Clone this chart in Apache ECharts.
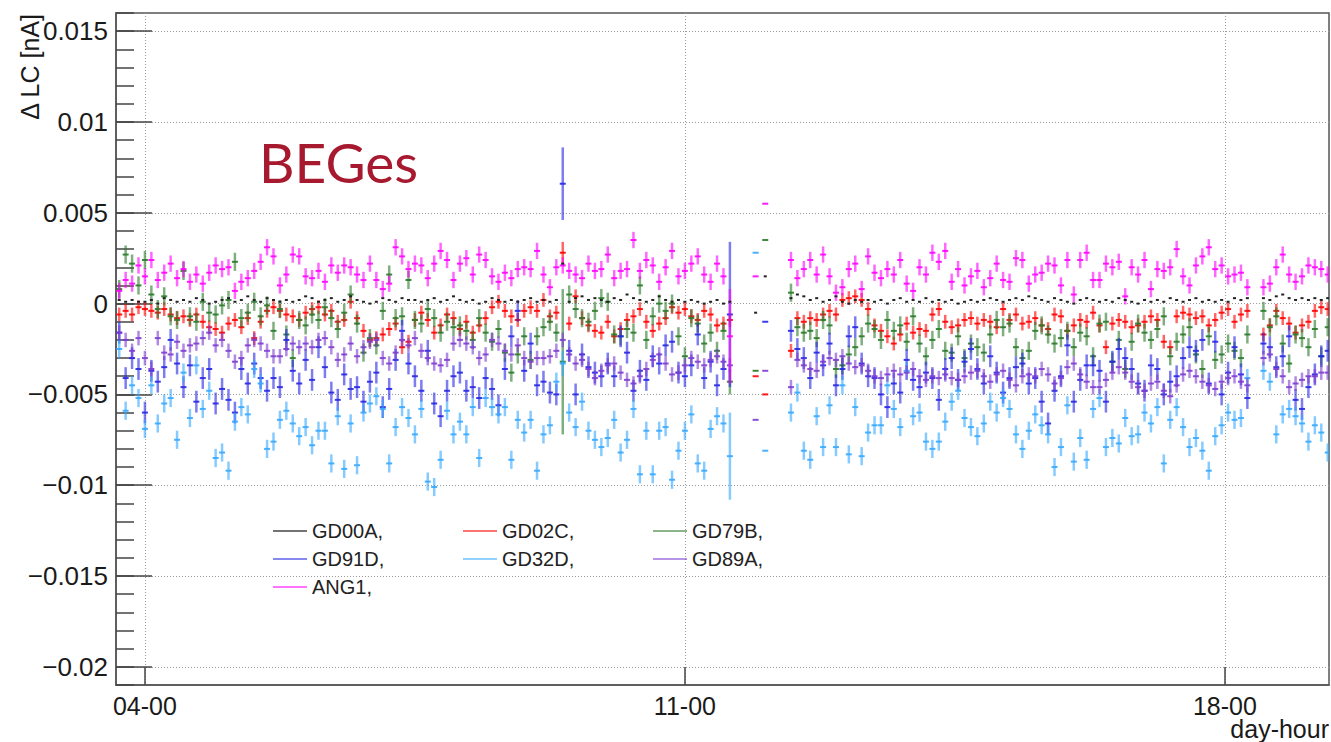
<!DOCTYPE html>
<html>
<head>
<meta charset="utf-8">
<script src="https://cdn.jsdelivr.net/npm/echarts@6/dist/echarts.min.js"></script>
<style>
html,body{margin:0;padding:0;background:#fff;}
#chart{width:1331px;height:742px;}
</style>
</head>
<body>
<div id="chart"></div>
<script>
// ---------------- DATA ----------------
// time in hours relative to 04-00
const hours = [-8,-6,-4,-2,
0,2,4,6,8,10,12,14,16,18,20,22,
24,26,28,30,32,34,36,38,40,42,44,46,
48,50,52,54,56,58,60,62,64,66,68,70,
72,74,76,78,80,82,84,86,88,90,92,94,
96,98,100,102,104,106,108,110,112,114,116,118,
120,122,124,126,128,130,132,134,136,138,140,142,
144,146,148,150,152,154,156,158,160,162,164,166,
168,170,172,174,176,178,180,182,
190,193,
201,203,205,207,209,211,213,215,217,219,221,223,
225,227,229,231,233,235,237,239,241,243,245,247,
249,251,253,255,257,259,261,263,265,267,269,271,
273,275,277,279,281,283,285,287,289,291,293,295,
297,299,301,303,305,307,309,311,313,315,317,319,
321,323,325,327,329,331,333,335,337,339,341,343,
348,350,352,354,356,358,360,362,364,366,368];

const GD00A = [0.0002,0.0001,0.0002,0.0001,
0.0001,0.0002,0.0000,0.0003,0.0002,0.0001,0.0002,0.0001,0.0003,0.0002,0.0000,0.0001,
0.0002,0.0003,0.0001,0.0002,0.0004,0.0002,0.0001,0.0003,0.0002,0.0001,0.0002,0.0001,
0.0002,0.0004,0.0003,0.0001,0.0002,0.0003,0.0001,0.0002,0.0004,0.0002,0.0001,0.0000,
0.0001,0.0003,0.0002,0.0001,0.0003,0.0002,0.0002,0.0001,0.0002,0.0003,0.0001,0.0002,
0.0004,0.0002,0.0001,0.0002,0.0000,0.0001,0.0003,0.0002,0.0001,0.0002,0.0001,0.0002,
0.0003,0.0001,0.0002,0.0001,0.0002,0.0022,0.0001,0.0003,0.0004,0.0002,0.0003,0.0002,
0.0001,0.0003,0.0002,0.0005,0.0003,0.0002,0.0001,0.0002,0.0004,0.0002,0.0001,0.0002,
0.0001,0.0002,0.0001,0.0000,0.0001,0.0002,0.0000,0.0001,
-0.0005,0.0015,
0.0003,0.0005,0.0004,0.0002,0.0003,0.0001,0.0002,0.0004,0.0001,0.0000,0.0002,0.0001,
0.0002,0.0001,0.0002,0.0000,0.0002,0.0003,0.0001,0.0002,0.0001,0.0003,0.0001,0.0002,
0.0001,0.0002,0.0000,0.0001,0.0002,0.0001,0.0002,0.0003,0.0002,0.0001,0.0002,0.0003,
0.0002,0.0004,0.0003,0.0002,0.0001,0.0003,0.0002,0.0001,0.0000,0.0002,0.0003,0.0002,
0.0001,0.0002,0.0001,0.0003,0.0002,0.0001,0.0000,0.0002,0.0001,0.0002,0.0001,0.0003,
0.0002,0.0001,0.0002,0.0003,0.0001,0.0002,0.0001,0.0002,0.0001,0.0003,0.0002,0.0003,
0.0003,0.0002,0.0004,0.0005,0.0003,0.0002,0.0003,0.0002,0.0003,0.0002,0.0003];

const GD02C = [-0.0006,-0.0004,-0.0006,-0.0002,
-0.0003,-0.0004,-0.0005,-0.0003,-0.0006,-0.0008,-0.0007,-0.0009,-0.0006,-0.0010,-0.0013,-0.0014,
-0.0016,-0.0011,-0.0009,-0.0013,-0.0008,-0.0019,-0.0010,-0.0004,-0.0002,-0.0004,-0.0006,-0.0007,
-0.0009,-0.0005,-0.0003,-0.0002,-0.0006,-0.0004,-0.0010,-0.0009,0.0001,-0.0008,-0.0015,-0.0020,
-0.0019,-0.0017,-0.0014,-0.0011,-0.0024,-0.0021,-0.0009,-0.0005,-0.0009,-0.0016,-0.0012,-0.0006,
-0.0008,-0.0014,-0.0010,-0.0016,-0.0012,-0.0008,-0.0002,0.0001,-0.0004,-0.0007,-0.0009,-0.0004,
-0.0002,-0.0004,0.0002,-0.0007,-0.0005,0.0028,-0.0011,0.0004,-0.0008,-0.0012,-0.0015,-0.0016,
-0.0010,-0.0018,-0.0014,-0.0009,-0.0007,-0.0003,-0.0010,-0.0015,-0.0011,-0.0008,-0.0002,-0.0005,
-0.0003,-0.0007,-0.0009,-0.0004,-0.0006,-0.0012,-0.0011,-0.0009,
-0.0040,-0.0050,
-0.0026,-0.0008,-0.0010,-0.0008,-0.0009,-0.0006,-0.0004,-0.0006,0.0002,0.0003,0.0004,0.0002,
-0.0003,-0.0012,-0.0015,-0.0018,-0.0022,-0.0017,-0.0011,-0.0016,-0.0014,-0.0015,-0.0006,-0.0003,
-0.0010,-0.0013,-0.0012,-0.0009,-0.0008,-0.0011,-0.0009,-0.0010,-0.0013,-0.0003,-0.0009,-0.0006,
-0.0011,-0.0010,-0.0008,-0.0012,-0.0014,-0.0006,-0.0007,-0.0015,-0.0012,-0.0009,-0.0010,-0.0005,
-0.0012,-0.0024,-0.0011,-0.0009,-0.0010,-0.0013,-0.0012,-0.0010,-0.0007,-0.0009,-0.0021,-0.0024,
-0.0007,-0.0005,-0.0006,-0.0008,-0.0007,-0.0012,-0.0009,-0.0005,-0.0003,-0.0010,-0.0006,-0.0004,
-0.0017,-0.0012,-0.0004,-0.0008,-0.0011,-0.0016,-0.0012,-0.0010,-0.0004,-0.0002,-0.0003];

const GD79B = [0.0008,0.0027,0.0022,0.0010,
0.0024,0.0005,-0.0003,0.0004,-0.0007,-0.0009,0.0018,-0.0007,-0.0010,0.0001,-0.0005,-0.0006,
-0.0001,0.0002,0.0023,-0.0008,-0.0005,0.0001,-0.0007,-0.0001,-0.0015,-0.0003,-0.0017,-0.0030,
-0.0009,-0.0012,-0.0006,-0.0009,-0.0002,-0.0008,-0.0014,-0.0005,0.0005,-0.0011,-0.0027,-0.0019,
-0.0023,-0.0004,0.0016,-0.0008,-0.0007,0.0013,-0.0009,-0.0011,-0.0003,-0.0008,-0.0016,-0.0010,
-0.0013,-0.0012,-0.0015,-0.0020,-0.0008,-0.0016,-0.0021,-0.0014,-0.0027,-0.0038,-0.0028,-0.0018,
-0.0031,-0.0018,-0.0013,-0.0010,-0.0016,-0.0032,0.0005,-0.0003,-0.0008,-0.0010,-0.0004,0.0003,
0.0001,-0.0017,-0.0018,-0.0014,-0.0016,0.0010,-0.0020,-0.0007,0.0000,-0.0004,0.0000,-0.0018,
-0.0029,-0.0008,-0.0011,-0.0022,-0.0016,-0.0026,-0.0015,-0.0043,
-0.0037,0.0035,
0.0006,-0.0013,-0.0016,-0.0015,-0.0019,-0.0009,-0.0012,-0.0036,-0.0034,-0.0028,-0.0024,-0.0018,
-0.0011,-0.0014,-0.0020,-0.0009,-0.0015,-0.0012,-0.0021,-0.0007,-0.0022,-0.0029,-0.0020,-0.0014,
-0.0026,-0.0027,-0.0018,-0.0030,-0.0022,-0.0024,-0.0027,-0.0017,-0.0009,-0.0013,-0.0011,-0.0024,
-0.0030,-0.0026,-0.0015,-0.0012,-0.0017,-0.0022,-0.0019,-0.0015,-0.0024,-0.0016,-0.0018,-0.0029,
-0.0011,-0.0010,-0.0032,-0.0020,-0.0036,-0.0021,-0.0011,-0.0016,-0.0020,-0.0014,-0.0007,-0.0029,
-0.0021,-0.0017,-0.0013,-0.0028,-0.0036,-0.0018,-0.0031,-0.0028,-0.0022,-0.0026,-0.0030,-0.0017,
-0.0004,-0.0013,-0.0007,-0.0022,-0.0033,-0.0017,-0.0019,-0.0024,-0.0014,-0.0029,-0.0013];

const GD91D = [-0.0016,-0.0041,-0.0030,-0.0036,
-0.0060,-0.0037,-0.0043,-0.0035,-0.0020,-0.0033,-0.0046,-0.0034,-0.0054,-0.0041,-0.0036,-0.0055,
-0.0047,-0.0053,-0.0060,-0.0036,-0.0044,-0.0033,-0.0041,-0.0048,-0.0041,-0.0046,-0.0020,-0.0037,
-0.0044,-0.0031,-0.0042,-0.0024,-0.0035,-0.0049,-0.0053,-0.0039,-0.0047,-0.0046,-0.0054,-0.0043,
-0.0038,-0.0057,-0.0047,-0.0031,-0.0015,-0.0033,-0.0040,-0.0048,-0.0026,-0.0055,-0.0062,-0.0048,
-0.0040,-0.0038,-0.0048,-0.0046,-0.0052,-0.0041,-0.0047,-0.0056,-0.0036,-0.0018,-0.0004,-0.0037,
-0.0022,-0.0045,-0.0043,-0.0049,-0.0050,0.0066,-0.0026,-0.0050,-0.0028,-0.0035,-0.0038,-0.0040,
-0.0033,-0.0040,-0.0018,-0.0027,-0.0048,-0.0037,-0.0042,-0.0029,-0.0033,-0.0023,-0.0021,-0.0038,
-0.0040,-0.0034,-0.0017,-0.0041,-0.0032,-0.0045,-0.0036,-0.0006,
null,-0.0010,
-0.0015,-0.0025,-0.0030,-0.0041,-0.0027,-0.0034,-0.0022,-0.0045,-0.0036,-0.0018,-0.0013,-0.0033,
-0.0040,-0.0041,-0.0050,-0.0057,-0.0044,-0.0049,-0.0031,-0.0042,-0.0046,-0.0038,-0.0041,-0.0053,
-0.0036,-0.0030,-0.0042,-0.0032,-0.0025,-0.0036,-0.0044,-0.0029,-0.0038,-0.0049,-0.0041,-0.0035,
-0.0033,-0.0044,-0.0041,-0.0054,-0.0066,-0.0048,-0.0040,-0.0023,-0.0054,-0.0042,-0.0034,-0.0034,
-0.0037,-0.0054,-0.0032,-0.0025,-0.0030,-0.0036,-0.0044,-0.0048,-0.0034,-0.0036,-0.0050,-0.0043,
-0.0040,-0.0030,-0.0024,-0.0026,-0.0020,-0.0044,-0.0021,-0.0050,-0.0038,-0.0024,-0.0039,-0.0052,
-0.0022,-0.0024,-0.0035,-0.0029,-0.0018,-0.0053,-0.0058,-0.0046,-0.0039,-0.0029,-0.0026];

const GD32D = [-0.0025,-0.0059,-0.0045,-0.0052,
-0.0069,-0.0045,-0.0066,-0.0055,-0.0052,-0.0075,-0.0038,-0.0063,-0.0034,-0.0058,-0.0048,-0.0085,
-0.0082,-0.0092,-0.0065,-0.0057,-0.0061,-0.0036,-0.0044,-0.0080,-0.0076,-0.0064,-0.0059,-0.0066,
-0.0073,-0.0068,-0.0078,-0.0070,-0.0070,-0.0088,-0.0062,-0.0091,-0.0066,-0.0089,-0.0060,-0.0055,
-0.0051,-0.0058,-0.0088,-0.0068,-0.0057,-0.0063,-0.0072,-0.0058,-0.0098,-0.0101,-0.0086,-0.0059,
-0.0072,-0.0065,-0.0072,-0.0057,-0.0085,-0.0052,-0.0057,-0.0061,-0.0057,-0.0086,-0.0064,-0.0071,
-0.0064,-0.0092,-0.0072,-0.0067,-0.0043,-0.0033,-0.0060,-0.0068,-0.0054,-0.0070,-0.0075,-0.0079,
-0.0074,-0.0064,-0.0082,-0.0075,-0.0058,-0.0094,-0.0070,-0.0094,-0.0070,-0.0068,-0.0097,-0.0081,
-0.0070,-0.0061,-0.0088,-0.0092,-0.0069,-0.0062,-0.0066,-0.0084,
0.0028,-0.0081,
-0.0060,-0.0049,-0.0081,-0.0086,-0.0062,-0.0079,-0.0056,-0.0079,-0.0045,-0.0083,-0.0057,-0.0084,
-0.0071,-0.0067,-0.0067,-0.0045,-0.0058,-0.0068,-0.0037,-0.0062,-0.0060,-0.0076,-0.0080,-0.0076,
-0.0065,-0.0054,-0.0048,-0.0063,-0.0068,-0.0073,-0.0066,-0.0054,-0.0060,-0.0052,-0.0058,-0.0072,
-0.0080,-0.0070,-0.0061,-0.0067,-0.0072,-0.0090,-0.0079,-0.0056,-0.0087,-0.0074,-0.0086,-0.0058,
-0.0052,-0.0079,-0.0074,-0.0077,-0.0063,-0.0073,-0.0072,-0.0060,-0.0066,-0.0057,-0.0088,-0.0064,
-0.0057,-0.0068,-0.0079,-0.0074,-0.0081,-0.0092,-0.0073,-0.0067,-0.0060,-0.0064,-0.0063,-0.0041,
-0.0037,-0.0043,-0.0072,-0.0061,-0.0058,-0.0062,-0.0066,-0.0076,-0.0067,-0.0071,-0.0082];

const GD89A = [-0.0016,-0.0020,-0.0026,-0.0019,
-0.0030,-0.0036,-0.0019,-0.0027,-0.0028,-0.0021,-0.0026,-0.0023,-0.0022,-0.0019,-0.0016,-0.0023,
-0.0020,-0.0026,-0.0032,-0.0030,-0.0023,-0.0020,-0.0022,-0.0026,-0.0029,-0.0029,-0.0025,-0.0022,
-0.0024,-0.0022,-0.0024,-0.0020,-0.0019,-0.0024,-0.0031,-0.0028,-0.0022,-0.0029,-0.0024,-0.0021,
-0.0020,-0.0030,-0.0033,-0.0027,-0.0020,-0.0023,-0.0019,-0.0026,-0.0030,-0.0033,-0.0034,-0.0031,
-0.0022,-0.0020,-0.0022,-0.0024,-0.0030,-0.0028,-0.0020,-0.0022,-0.0026,-0.0028,-0.0023,-0.0030,
-0.0032,-0.0030,-0.0030,-0.0029,-0.0026,-0.0020,-0.0028,-0.0033,-0.0031,-0.0036,-0.0041,-0.0037,
-0.0034,-0.0033,-0.0038,-0.0042,-0.0044,-0.0040,-0.0036,-0.0031,-0.0028,-0.0033,-0.0039,-0.0038,
-0.0034,-0.0030,-0.0032,-0.0034,-0.0031,-0.0029,-0.0032,-0.0034,
-0.0064,-0.0037,
-0.0046,-0.0031,-0.0034,-0.0036,-0.0037,-0.0032,-0.0030,-0.0031,-0.0029,-0.0033,-0.0035,-0.0034,
-0.0037,-0.0040,-0.0041,-0.0039,-0.0037,-0.0039,-0.0038,-0.0036,-0.0040,-0.0042,-0.0040,-0.0041,
-0.0039,-0.0041,-0.0042,-0.0040,-0.0038,-0.0037,-0.0040,-0.0043,-0.0039,-0.0037,-0.0042,-0.0045,
-0.0040,-0.0039,-0.0040,-0.0036,-0.0039,-0.0044,-0.0041,-0.0035,-0.0033,-0.0039,-0.0043,-0.0046,
-0.0046,-0.0042,-0.0038,-0.0035,-0.0038,-0.0043,-0.0046,-0.0048,-0.0044,-0.0043,-0.0048,-0.0051,
-0.0045,-0.0039,-0.0037,-0.0040,-0.0043,-0.0045,-0.0047,-0.0043,-0.0041,-0.0040,-0.0043,-0.0045,
-0.0030,-0.0028,-0.0036,-0.0040,-0.0046,-0.0044,-0.0042,-0.0040,-0.0040,-0.0038,-0.0038];

const ANG1 = [0.0007,0.0013,0.0011,0.0021,
0.0015,0.0024,0.0013,0.0017,0.0022,0.0014,0.0019,0.0012,0.0016,0.0011,0.0017,0.0021,
0.0019,0.0020,0.0007,0.0012,0.0014,0.0018,0.0023,0.0031,0.0026,0.0010,0.0016,0.0027,
0.0026,0.0015,0.0014,0.0018,0.0012,0.0021,0.0017,0.0021,0.0020,0.0016,0.0013,0.0022,
0.0013,0.0008,0.0011,0.0031,0.0026,0.0019,0.0022,0.0021,0.0014,0.0022,0.0029,0.0024,
0.0013,0.0022,0.0025,0.0016,0.0027,0.0024,0.0015,0.0012,0.0017,0.0014,0.0019,0.0020,
0.0019,0.0029,0.0016,0.0009,0.0020,0.0021,0.0018,0.0016,0.0014,0.0022,0.0018,0.0019,
0.0027,0.0014,0.0018,0.0019,0.0035,0.0018,0.0024,0.0021,0.0012,0.0020,0.0029,0.0015,
0.0018,0.0022,0.0026,0.0016,0.0012,0.0022,0.0015,-0.0018,
0.0015,0.0055,
0.0024,0.0014,0.0019,0.0024,0.0016,0.0027,0.0015,0.0006,0.0009,0.0019,0.0022,0.0008,
0.0026,0.0017,0.0014,0.0019,0.0016,0.0024,0.0011,0.0007,0.0020,0.0016,0.0028,0.0023,
0.0029,0.0012,0.0019,0.0010,0.0015,0.0018,0.0009,0.0014,0.0022,0.0013,0.0012,0.0025,
0.0024,0.0011,0.0016,0.0017,0.0022,0.0021,0.0010,0.0024,0.0005,0.0024,0.0028,0.0013,
0.0013,0.0022,0.0020,0.0023,0.0004,0.0020,0.0016,0.0024,0.0008,0.0019,0.0018,0.0020,
0.0030,0.0015,0.0010,0.0021,0.0026,0.0031,0.0019,0.0021,0.0015,0.0016,0.0017,0.0009,
0.0009,0.0011,0.0020,0.0027,0.0016,0.0012,0.0015,0.0021,0.0020,0.0019,0.0016];

const seriesNames = ['GD00A','GD02C','GD79B','GD91D','GD32D','GD89A','ANG1'];
const seriesValues = [GD00A, GD02C, GD79B, GD91D, GD32D, GD89A, ANG1];
// typical half-length of the error bars (nA)
const errHalf = [0.00005, 0.00038, 0.0005, 0.0006, 0.0005, 0.0004, 0.00045];
// individual error bars that differ from the typical one: [series, hour, half-length]
const specialErr = [
  ['GD91D',130,0.0020],['GD79B',130,0.0040],['GD02C',130,0.0006],['GD32D',130,0.0007],
  ['GD91D',182,0.0040],['ANG1',182,0.0026],['GD32D',182,0.0024],['GD79B',182,0.0007]
];
const noErrHours = [190, 193];
const yTickValues = [-0.02,-0.015,-0.01,-0.005,0,0.005,0.01,0.015];
const xTickValues = [0,168,336];
const xTickLabels = ['04-00','11-00','18-00'];

// ---------------- STYLE ----------------
const colors = ['#000000','#ff0000','#2a7a2a','#2626e6','#36a9ff','#7d3cd2','#ff00ff'];
const FONT = '"Liberation Sans", Arial, Helvetica, sans-serif';

function buildData(idx) {
  const name = seriesNames[idx];
  const vals = seriesValues[idx];
  const out = [];
  for (let i = 0; i < hours.length; i++) {
    const v = vals[i];
    if (v === null || v === undefined) continue;
    let e = errHalf[idx];
    if (noErrHours.indexOf(hours[i]) >= 0) e = 0;
    specialErr.forEach(s => { if (s[0] === name && s[1] === hours[i]) e = s[2]; });
    out.push([hours[i], v, e]);
  }
  return out;
}

function makeRender(color, isDot) {
  return function (params, api) {
    const x = api.value(0), y = api.value(1), e = api.value(2);
    const c = api.coord([x, y]);
    const t = api.coord([x, y + e]);
    const b = api.coord([x, y - e]);
    const children = [];
    if (isDot) {
      children.push({type:'rect', shape:{x:c[0]-1.5, y:c[1]-1, width:3, height:2}, style:{fill:'#222'}});
    } else {
      if (e > 0) {
        children.push({type:'line', shape:{x1:c[0], y1:t[1], x2:c[0], y2:b[1]},
          style:{stroke:color, lineWidth:2.5, opacity:0.6}});
      }
      children.push({type:'line', shape:{x1:c[0]-3, y1:c[1], x2:c[0]+3, y2:c[1]},
        style:{stroke:color, lineWidth:2, opacity:0.9}});
    }
    return {type:'group', children};
  };
}

const zs = {0:9, 1:2, 2:3, 3:4, 4:5, 5:6, 6:7};
const series = seriesNames.map((n, i) => ({
  type:'custom',
  name:n,
  xAxisIndex:0,
  yAxisIndex:0,
  clip:true,
  z: zs[i],
  itemStyle:{color:colors[i]},
  encode:{x:0, y:1},
  data: buildData(i),
  renderItem: makeRender(colors[i], i === 0),
  animation:false
}));

const legendPos = [[273,521],[463,521],[653,521],[273,549],[463,549],[653,549],[273,577]];
const legends = seriesNames.map((n, i) => ({
  data:[n],
  left: legendPos[i][0],
  top: legendPos[i][1],
  padding:0,
  icon:'rect',
  itemWidth:34,
  itemHeight:2,
  itemStyle:{opacity:0.55},
  formatter: name => name + ',',
  textStyle:{fontFamily:FONT, fontSize:20, color:'#222'},
  selectedMode:false
}));

function fmtY(v) {
  if (Math.abs(v) < 1e-12) return '0';
  const s = String(parseFloat(Math.abs(v).toFixed(4)));
  return (v < 0 ? '\u2212' : '') + s;
}
function fmtX(v) {
  const i = xTickValues.indexOf(v);
  return i >= 0 ? xTickLabels[i] : '';
}

const chart = echarts.init(document.getElementById('chart'), null, {renderer:'svg'});
chart.setOption({
  animation:false,
  backgroundColor:'#ffffff',
  grid:{left:116, right:2, top:13, bottom:57, show:true, borderColor:'#555', borderWidth:1.5, backgroundColor:'transparent'},
  legend: legends,
  xAxis:{
    type:'value', min:-9, max:368.4,
    axisLine:{show:true, onZero:false, lineStyle:{color:'#555', width:1.5}},
    axisTick:{show:true, inside:true, length:18, customValues:xTickValues, lineStyle:{color:'#444', width:1.5}},
    axisLabel:{show:true, customValues:xTickValues, formatter:fmtX, fontFamily:FONT, fontSize:25, color:'#1a1a1a', margin:8},
    splitLine:{show:true, lineStyle:{color:'#9a9a9a', type:[1,2], width:1}}
  },
  yAxis:[
    {
      type:'value', min:-0.021, max:0.016, interval:0.001, position:'left',
      axisLine:{show:true, onZero:false, lineStyle:{color:'#555', width:1.5}},
      axisTick:{show:true, inside:true, length:18, lineStyle:{color:'#444', width:1.5}},
      axisLabel:{show:false},
      splitLine:{show:false}
    },
    {
      type:'value', min:-0.021, max:0.016, position:'left', offset:0,
      axisLine:{show:false, onZero:false},
      axisTick:{show:true, inside:true, length:36, customValues:yTickValues, lineStyle:{color:'#444', width:1.5}},
      axisLabel:{show:true, customValues:yTickValues, formatter:fmtY, fontFamily:FONT, fontSize:26, color:'#1a1a1a', margin:8},
      splitLine:{show:true, lineStyle:{color:'#9a9a9a', type:[1,2], width:1}}
    }
  ],
  graphic:[
    {type:'text', x:30, y:14, rotation:Math.PI/2,
     style:{text:'\u0394 LC [nA]', font:'25px ' + FONT, fill:'#1a1a1a', align:'right', verticalAlign:'middle'}},
    {type:'text', x:1329, y:729,
     style:{text:'day-hour', font:'25px ' + FONT, fill:'#1a1a1a', align:'right', verticalAlign:'middle'}},
    {type:'text', x:259, y:162,
     style:{text:'BEGes', font:'55px Lato, "Open Sans", sans-serif', fill:'#a6192e', align:'left', verticalAlign:'middle'}}
  ],
  series: series
});
</script>
</body>
</html>
